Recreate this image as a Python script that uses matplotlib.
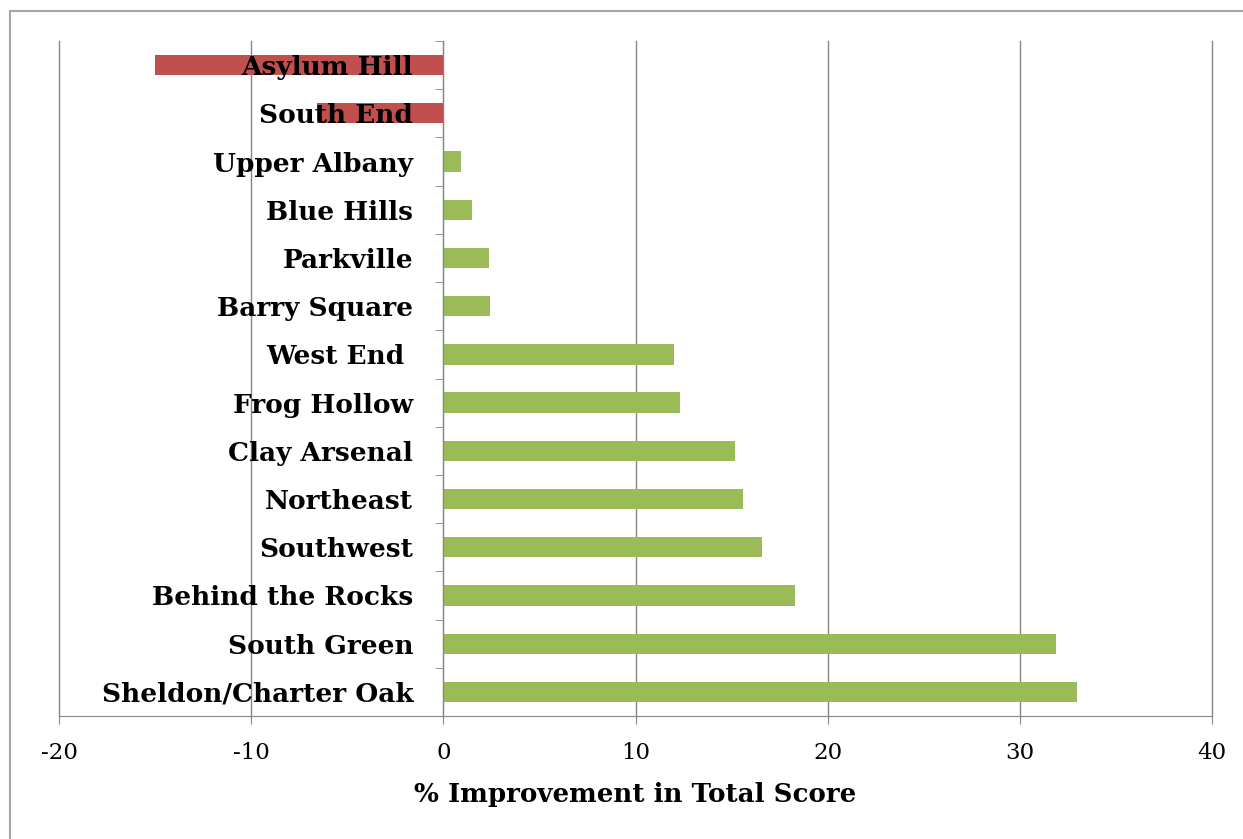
import numpy as np
import matplotlib.pyplot as plt
from matplotlib.patches import Rectangle

neighborhoods = ["Asylum Hill", "South End", "Upper Albany", "Blue Hills", "Parkville",
                 "Barry Square", "West End ", "Frog Hollow", "Clay Arsenal", "Northeast",
                 "Southwest", "Behind the Rocks", "South Green", "Sheldon/Charter Oak"]
improvement = [-15.0, -6.6, 0.9, 1.5, 2.4, 2.45, 12.0, 12.3, 15.2, 15.6, 16.6, 18.3, 31.9, 33.0]
xticks = [-20, -10, 0, 10, 20, 30, 40]

red = "#C0504D"
green = "#9BBB59"
gray = "#868686"

fig = plt.figure(figsize=(12.43, 8.39), dpi=100)
ax = fig.add_axes([59 / 1243, 123 / 839, 1153 / 1243, 675 / 839])

# outer chart frame
fig.patches.append(Rectangle((10 / 1243, -0.05), 1.2, (839 - 11) / 839 + 0.05,
                             transform=fig.transFigure, fill=False,
                             edgecolor="#A6A6A6", linewidth=1.5))

y = np.arange(len(neighborhoods))
colors = [red if v < 0 else green for v in improvement]
# keep bars below the axis artists so the labels sit on top of the red bars
ax.barh(y, improvement, height=0.42, color=colors, zorder=1)

ax.set_xlim(-20, 40)
ax.set_ylim(len(neighborhoods) - 0.5, -0.5)

for xt in xticks:
    ax.axvline(xt, color=gray, linewidth=1.0, zorder=0.5, clip_on=False)

ax.spines["left"].set_position(("data", 0))
ax.spines["left"].set_color(gray)
ax.spines["bottom"].set_color(gray)
ax.spines["top"].set_visible(False)
ax.spines["right"].set_visible(False)

ax.set_yticks(y)
ax.set_yticklabels(neighborhoods, fontfamily="DejaVu Serif", fontweight="bold", fontsize=19)
ax.set_yticks(np.arange(-0.5, len(neighborhoods), 1), minor=True)
ax.tick_params(axis="y", which="major", length=0, pad=21.6)
ax.tick_params(axis="y", which="minor", length=6, color=gray, direction="out")

ax.set_xticks(xticks)
ax.set_xticklabels([str(v) for v in xticks], fontfamily="DejaVu Serif", fontsize=16.5)
ax.tick_params(axis="x", length=6, color=gray, direction="out", pad=13)
ax.set_xlabel("% Improvement in Total Score", fontfamily="DejaVu Serif",
              fontweight="bold", fontsize=18.8, labelpad=13)

fig.savefig("out.png", dpi=100)
